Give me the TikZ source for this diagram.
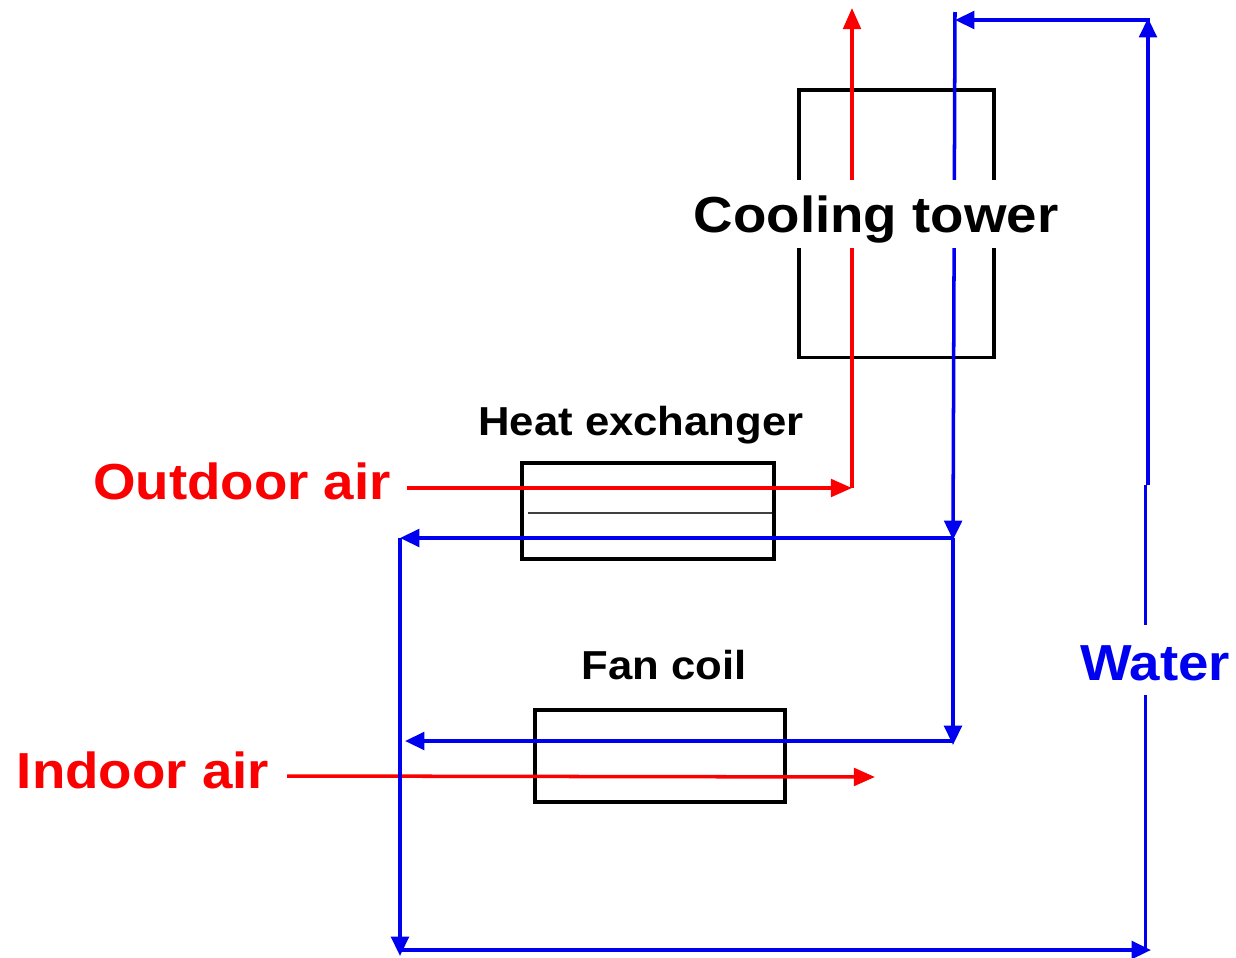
\documentclass[tikz,border=0pt]{standalone}
\usepackage{fontspec}
\setmainfont[FakeStretch=1.08]{Liberation Sans}
\usetikzlibrary{arrows.meta}
\definecolor{wblue}{RGB}{0,0,240}
\definecolor{ared}{RGB}{250,0,0}
\tikzset{unitbox/.style={rectangle,draw,line width=0.9pt,inner sep=0pt},
         airline/.style={draw=ared,line width=1pt,-{Triangle[length=6pt,width=5pt]}},
         waterline/.style={draw=wblue,line width=1pt,-{Triangle[length=5.5pt,width=5pt]}},
         plainwater/.style={draw=wblue,line width=1pt},
         biglab/.style={font=\fontsize{14.4}{18}\selectfont\bfseries,fill=white,inner xsep=0pt,inner ysep=0pt},
         smalllab/.style={font=\fontsize{11.5}{15}\selectfont\bfseries,inner sep=0pt}}

\begin{document}
\begin{tikzpicture}[x=0.01cm,y=-0.01cm]
  \useasboundingbox (0,0) rectangle (1236,957);
  \node[unitbox,minimum width=1.95cm,minimum height=2.67cm] (ct) at (896.5,223.5) {};
  \node[unitbox,minimum width=2.52cm,minimum height=0.96cm] (hx) at (648,511) {};
  \node[unitbox,minimum width=2.50cm,minimum height=0.92cm] (fc) at (660,756) {};
  \coordinate (hxa) at (528,513);
  \coordinate (hxb) at (772,513);
  \draw[line width=0.4pt,black!75] (hxa)--(hxb);
  \foreach \n/\x/\y in {oa/407/488,oc/852/488,ot/852/8,
                        ia/287/776,ib/875/777,
                        wr/1148/485,wk/1148/18,wq/1150/20,wt/955/20,wu/955/12,wj/953/540,wd/953/538,
                        wl/400/538,wb/400/956,wc/400/950,we/1151/950,wf/1145.5/950,wg/1145.5/485,
                        wm/953/745,wn/953/741,wp/405/741}
    \coordinate (\n) at (\x,\y);
  \foreach \i/\j in {oa/oc,oc/ot,ia/ib} \draw[airline] (\i)--(\j);
  \foreach \i/\j in {wr/wk,wq/wt,wu/wj,wd/wl,wl/wb,wc/we,wd/wm,wn/wp} \draw[waterline] (\i)--(\j);
  \draw[plainwater] (wf)--(wg);
  \node[biglab,text height=0.52cm,text depth=0.16cm] (ctlab) at (876,214) {Cooling tower};
  \node[biglab,text height=0.55cm,text depth=0.15cm,text=wblue] (wlab) at (1155,660) {Water};
  \node[biglab,text=ared] (oalab) at (242,481) {Outdoor air};
  \node[biglab,text=ared] (ialab) at (143,770) {Indoor air};
  \node[smalllab] (hxlab) at (641,425) {Heat exchanger};
  \node[smalllab] (fclab) at (664,665) {Fan coil};
\end{tikzpicture}
\end{document}
